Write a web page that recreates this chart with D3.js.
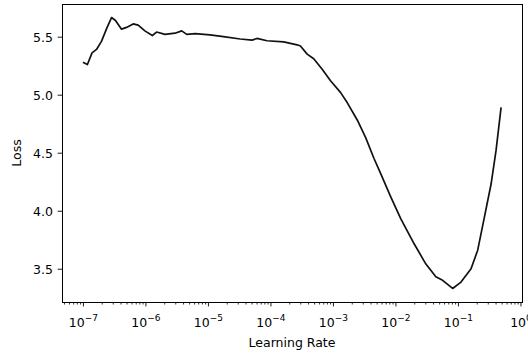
<!DOCTYPE html>
<html>
<head>
<meta charset="utf-8">
<script src="https://cdn.jsdelivr.net/npm/d3@7"></script>
<style>
  body { margin: 0; background: #fff; }
  text { font-family: "DejaVu Sans", sans-serif; fill: #000; }
</style>
</head>
<body>
<div id="chart"></div>
<script>
// learning rate finder values
const learningRates = [
  1.0e-7, 1.18e-7, 1.4e-7, 1.65e-7, 1.98e-7, 2.44e-7, 2.87e-7, 3.32e-7, 4.15e-7, 4.99e-7,
  6.37e-7, 7.66e-7, 9.8e-7, 1.29e-6, 1.51e-6, 2.06e-6, 2.98e-6, 3.81e-6, 4.58e-6, 6.23e-6,
  1.08e-5, 1.77e-5, 3.29e-5, 5.07e-5, 6.1e-5, 8.8e-5, 1.63e-4, 2.67e-4, 3.02e-4, 3.87e-4,
  4.93e-4, 6.73e-4, 9.15e-4, 1.32e-3, 1.70e-3, 2.46e-3, 3.34e-3, 4.54e-3, 5.81e-3, 8.41e-3,
  1.22e-2, 1.99e-2, 3.07e-2, 4.43e-2, 5.68e-2, 8.22e-2, 0.112, 0.162, 0.207, 0.264,
  0.339, 0.407, 0.49
];
const losses = [
  5.28, 5.26, 5.36, 5.39, 5.46, 5.58, 5.665, 5.64, 5.565, 5.58,
  5.61, 5.60, 5.55, 5.51, 5.54, 5.52, 5.53, 5.55, 5.52, 5.527,
  5.516, 5.50, 5.48, 5.47, 5.485, 5.465, 5.455, 5.43, 5.42, 5.35,
  5.31, 5.22, 5.12, 5.02, 4.93, 4.78, 4.63, 4.45, 4.32, 4.12,
  3.93, 3.715, 3.54, 3.43, 3.40, 3.33, 3.385, 3.50, 3.66, 3.94,
  4.23, 4.52, 4.89
];
const xTickExponents = [-7, -6, -5, -4, -3, -2, -1, 0];
const yTicks = [3.5, 4.0, 4.5, 5.0, 5.5];

const width = 528, height = 354;
const margin = { top: 4, right: 6, bottom: 52, left: 62 };
const innerW = width - margin.left - margin.right;
const innerH = height - margin.top - margin.bottom;
const fontSize = 12.5;

const points = learningRates.map((lr, i) => ({ lr, loss: losses[i] }));

// matplotlib-style 5% margins (in log space for x)
const lx = d3.extent(learningRates, (d) => Math.log10(d));
const padX = (lx[1] - lx[0]) * 0.05;
const ly = d3.extent(losses);
const padY = (ly[1] - ly[0]) * 0.05;

const x = d3.scaleLog()
  .domain([Math.pow(10, lx[0] - padX), Math.pow(10, lx[1] + padX)])
  .range([0, innerW]);
const y = d3.scaleLinear()
  .domain([ly[0] - padY, ly[1] + padY])
  .range([innerH, 0]);

const svg = d3.select("#chart").append("svg")
  .attr("width", width)
  .attr("height", height);

const g = svg.append("g")
  .attr("transform", "translate(" + margin.left + "," + margin.top + ")");

// minor ticks on the log axis
const minor = [];
xTickExponents.forEach((e) => {
  for (let k = 2; k <= 9; k++) {
    const v = k * Math.pow(10, e - 1);
    if (v >= x.domain()[0] && v <= x.domain()[1]) minor.push(v);
  }
});
g.append("g")
  .attr("transform", "translate(0," + innerH + ")")
  .selectAll("line")
  .data(minor)
  .join("line")
  .attr("x1", (d) => x(d) + 0.5)
  .attr("x2", (d) => x(d) + 0.5)
  .attr("y1", 0)
  .attr("y2", 2.5)
  .attr("stroke", "#000")
  .attr("stroke-width", 0.8);

// major x ticks
const xAxis = g.append("g")
  .attr("transform", "translate(0," + innerH + ")");
const xt = xAxis.selectAll("g")
  .data(xTickExponents)
  .join("g")
  .attr("transform", (d) => "translate(" + (x(Math.pow(10, d)) + 0.5) + ",0)");
xt.append("line")
  .attr("y2", 4.4)
  .attr("stroke", "#000")
  .attr("stroke-width", 0.9);
const xl = xt.append("text")
  .attr("y", 25)
  .attr("text-anchor", "middle")
  .style("font-size", fontSize + "px");
xl.append("tspan").text("10");
xl.append("tspan")
  .attr("dy", -6)
  .style("font-size", "9px")
  .text((d) => (d < 0 ? "\u2212" + -d : "" + d));

// y ticks
const yt = g.append("g")
  .selectAll("g")
  .data(yTicks)
  .join("g")
  .attr("transform", (d) => "translate(0," + (y(d) + 0.5) + ")");
yt.append("line")
  .attr("x2", -4.4)
  .attr("stroke", "#000")
  .attr("stroke-width", 0.9);
yt.append("text")
  .attr("x", -9)
  .attr("dy", "0.36em")
  .attr("text-anchor", "end")
  .style("font-size", fontSize + "px")
  .text((d) => d.toFixed(1));

// loss curve
const line = d3.line()
  .x((d) => x(d.lr))
  .y((d) => y(d.loss));
g.append("path")
  .datum(points)
  .attr("d", line)
  .attr("fill", "none")
  .attr("stroke", "#111")
  .attr("stroke-width", 1.7)
  .attr("stroke-linejoin", "round");

// frame
g.append("rect")
  .attr("x", 0.5)
  .attr("y", 0.5)
  .attr("width", innerW)
  .attr("height", innerH)
  .attr("fill", "none")
  .attr("stroke", "#000")
  .attr("stroke-width", 1);

// axis labels
svg.append("text")
  .attr("x", margin.left + innerW / 2)
  .attr("y", 347)
  .attr("text-anchor", "middle")
  .style("font-size", fontSize + "px")
  .text("Learning Rate");
svg.append("text")
  .attr("transform", "translate(21," + (margin.top + innerH / 2) + ") rotate(-90)")
  .attr("text-anchor", "middle")
  .style("font-size", fontSize + "px")
  .text("Loss");
</script>
</body>
</html>
